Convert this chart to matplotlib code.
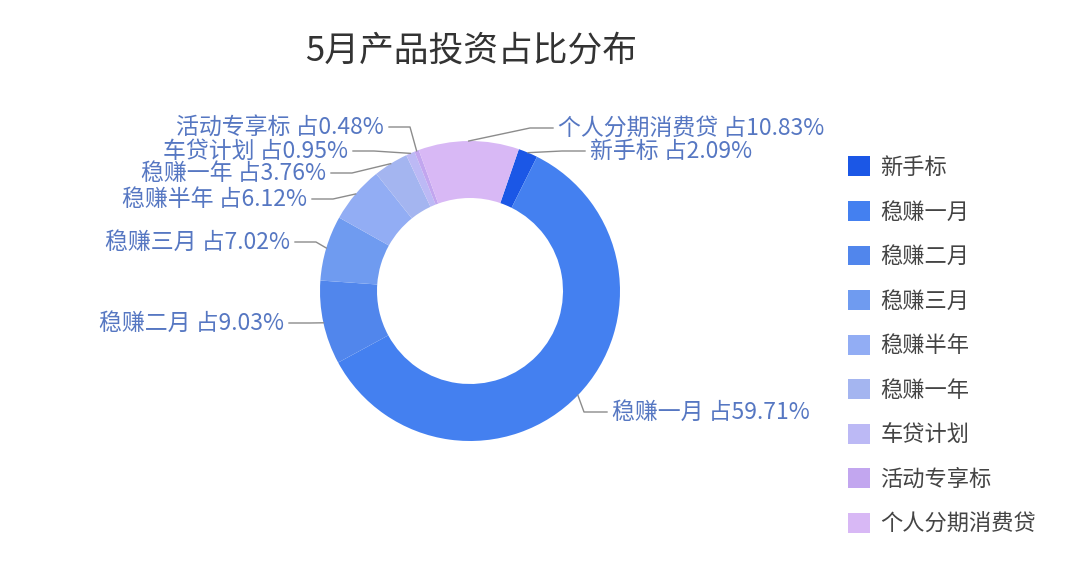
import numpy as np
import matplotlib
matplotlib.use('Agg')
import matplotlib.pyplot as plt

plt.rcParams['font.family'] = ['Noto Sans CJK SC', 'DejaVu Sans']

# data
names = ['新手标', '稳赚一月', '稳赚二月', '稳赚三月', '稳赚半年',
         '稳赚一年', '车贷计划', '活动专享标', '个人分期消费贷']
shares = [2.09, 59.71, 9.03, 7.02, 6.12, 3.76, 0.95, 0.48, 10.83]
colors = ['#1b57e6', '#4480f0', '#5186ec', '#6f9bf0', '#92adf4',
          '#a4b5f0', '#bcb9f5', '#c2a6ef', '#d8b8f5']

# label layout (pixel coords from top-left): text x (edge), text y, side
label_pos = [(590, 151, 'r'), (612, 412, 'r'), (284, 323, 'l'), (290, 242, 'l'),
             (307, 199, 'l'), (326, 173, 'l'), (348, 151, 'l'), (384, 127, 'l'),
             (558, 128, 'r')]

W, H = 1080, 573
cx, cy, R, r_in = 470, H - 291, 150, 93
start = 71

fig = plt.figure(figsize=(W / 100, H / 100), dpi=100)
ax = fig.add_axes([0, 0, 1, 1])
wedges, _ = ax.pie(shares, colors=colors, radius=R, center=(cx, cy),
                   startangle=start, counterclock=False,
                   wedgeprops=dict(width=R - r_in, linewidth=0))
ax.set_xlim(0, W)
ax.set_ylim(0, H)
ax.axis('off')

lab_color = '#5677c2'
for w, name, val, (tx, ty, side) in zip(wedges, names, shares, label_pos):
    mid = np.deg2rad((w.theta1 + w.theta2) / 2)
    px, py = cx + R * np.cos(mid), cy + R * np.sin(mid)
    ty = H - ty
    if side == 'r':
        ex, gx, ha = tx - 28, tx - 5, 'left'
    else:
        ex, gx, ha = tx + 26, tx + 5, 'right'
    ax.plot([px, ex, gx], [py, ty, ty], color='#8c8c8c', lw=1)
    ax.text(tx, ty, f'{name} 占{val:.2f}%', ha=ha, va='center',
            fontsize=16.5, color=lab_color)

ax.text(305, H - 51, '5月产品投资占比分布', fontsize=25, color='#333333',
        ha='left', va='center')

fig.legend(wedges, names, loc='upper left', bbox_to_anchor=(848 / W, 1 - 156 / H),
           frameon=False, fontsize=16, handlelength=1.0, handleheight=1.0,
           handletextpad=0.45, labelspacing=0.97, borderpad=0, borderaxespad=0,
           labelcolor='#444444')

fig.savefig('out.png', dpi=100, facecolor='white')
